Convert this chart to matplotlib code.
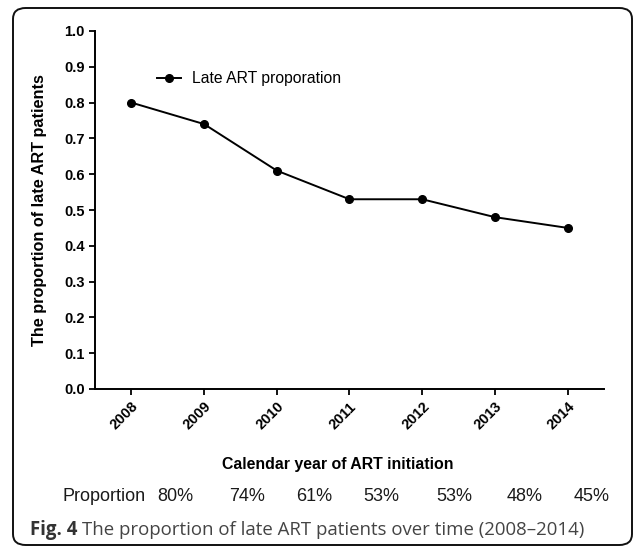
import matplotlib.pyplot as plt
from matplotlib.patches import FancyBboxPatch

years = [2008, 2009, 2010, 2011, 2012, 2013, 2014]
late_prop = [0.80, 0.74, 0.61, 0.53, 0.53, 0.48, 0.45]
pct_labels = ['80%', '74%', '61%', '53%', '53%', '48%', '45%']
pct_x = [175, 247, 314, 381, 454, 525, 592]  # label centres, px

W, H = 634, 548
plt.rcParams['font.family'] = ['Liberation Sans', 'DejaVu Sans']

fig = plt.figure(figsize=(W / 100, H / 100), dpi=100)
ax = fig.add_axes([95 / W, 1 - 389 / H, 509 / W, 358 / H])

ax.plot(years, late_prop, color='black', lw=1.4, marker='o', ms=5.5,
        label='Late ART proporation')

ax.set_xlim(2007.5, 2014.5)
ax.set_ylim(0, 1.0)
ax.set_yticks([i / 10 for i in range(11)])
ax.set_xticks(years)
ax.set_xticklabels([str(y) for y in years], rotation=45, ha='right',
                   rotation_mode='anchor', fontweight='bold', fontsize=10.5)
for t in ax.get_yticklabels():
    t.set_fontweight('bold')
    t.set_fontsize(10.5)
ax.tick_params(direction='out', length=4.5, width=1.3, pad=3, colors='black')
ax.spines['top'].set_visible(False)
ax.spines['right'].set_visible(False)
ax.spines['left'].set_linewidth(1.4)
ax.spines['bottom'].set_linewidth(1.4)

ax.set_ylabel('The proportion of late ART patients', fontsize=11.7, fontweight='bold')
ax.yaxis.set_label_coords((47 - 95) / 509, 0.5)
ax.set_xlabel('Calendar year of ART initiation', fontsize=11.4, fontweight='bold', va='baseline')
ax.xaxis.set_label_coords((338 - 95) / 509, (389 - 469) / 358)

ax.legend(loc='upper left', bbox_to_anchor=(0.11, 0.905), frameon=False,
          fontsize=11.3, handlelength=1.5, handletextpad=0.7, borderaxespad=0)

# proportion row
fig.text(62 / W, 1 - 501 / H, 'Proportion', fontsize=13, color='#1a1a1a', va='baseline')
for x, s in zip(pct_x, pct_labels):
    fig.text(x / W, 1 - 501 / H, s, fontsize=13, color='#1a1a1a', ha='center', va='baseline')

# caption
cap1 = fig.text(30 / W, 1 - 535 / H, 'Fig. 4', fontsize=13.4, fontweight='bold',
                family=['Open Sans', 'DejaVu Sans'], color='#333333', va='baseline')
fig.canvas.draw()
bb = cap1.get_window_extent()
fig.text((bb.x1 + 5) / W, 1 - 535 / H, 'The proportion of late ART patients over time (2008\u20132014)',
         fontsize=13.4, family=['Open Sans', 'DejaVu Sans'], color='#444444', va='baseline')

# rounded frame
frame = FancyBboxPatch((13 / W, 1 - 545 / H), (632 - 13) / W, (545 - 8) / H,
                       boxstyle='round,pad=0,rounding_size=0.02', transform=fig.transFigure,
                       fill=False, lw=1.4, ec='#111111', clip_on=False)
fig.patches.append(frame)

fig.savefig('out.png', dpi=100)
